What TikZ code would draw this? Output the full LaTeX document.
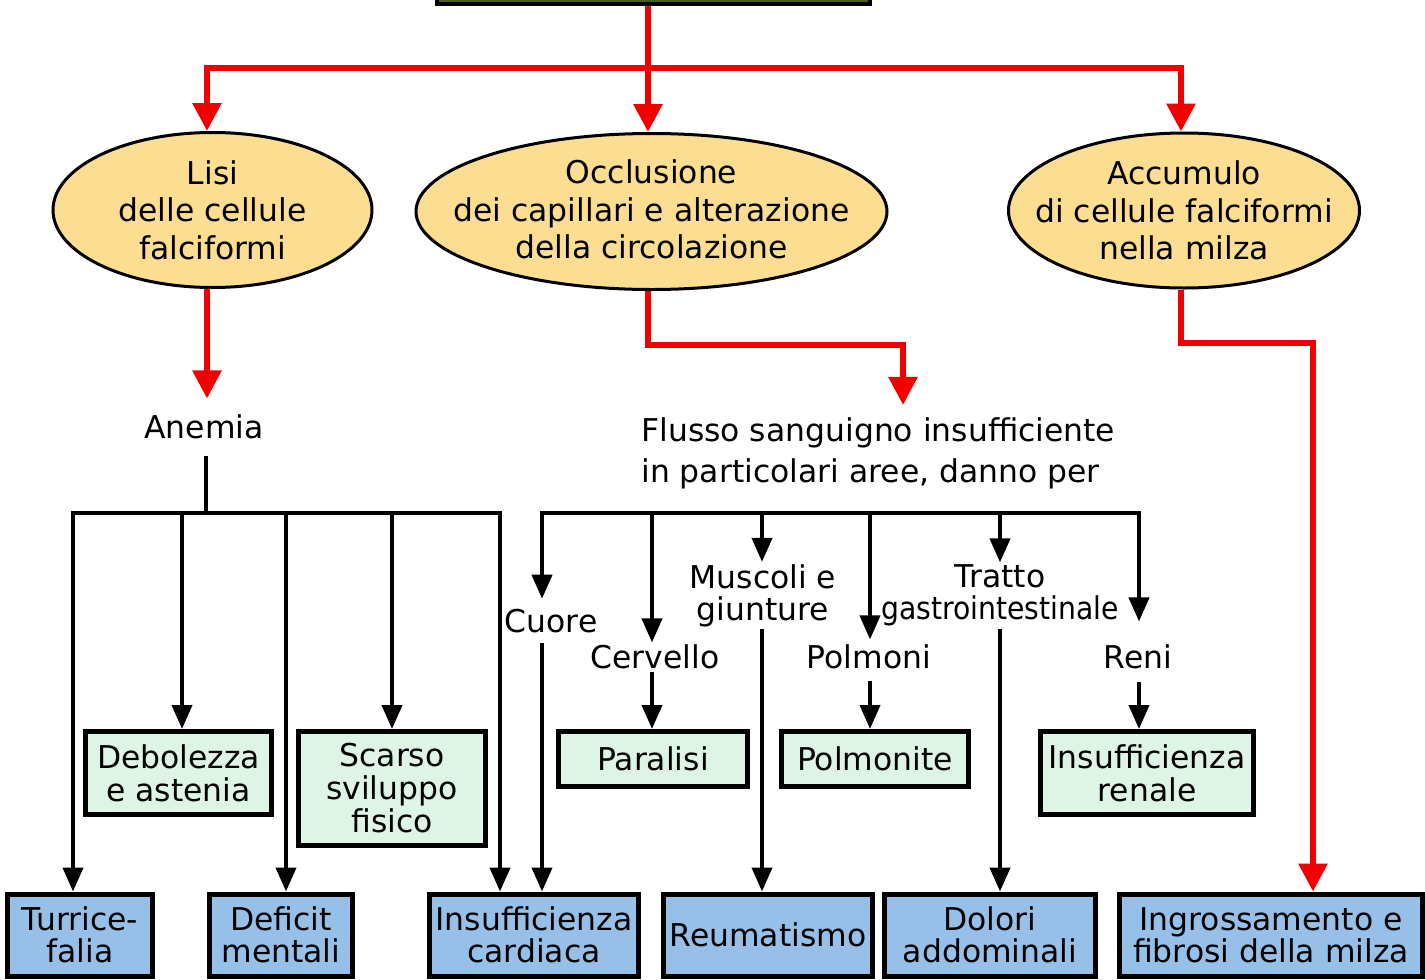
\documentclass[tikz,border=0pt]{standalone}
\usepackage{fontspec}
\setmainfont{DejaVu Sans}
\usetikzlibrary{arrows.meta,shapes.geometric,calc}
\definecolor{redc}{RGB}{240,0,0}
\definecolor{ellfill}{RGB}{251,222,146}
\definecolor{greenfill}{RGB}{222,244,228}
\definecolor{bluefill}{RGB}{151,192,232}
\definecolor{topfill}{RGB}{74,94,30}
\tikzset{
  redline/.style={draw=redc, line width=3pt},
  redarrow/.style={redline, -{Triangle[length=14pt,width=14pt]}},
  blkline/.style={draw=black, line width=2pt},
  blkarrow/.style={blkline, -{Triangle[length=12pt,width=10pt]}},
  topbox/.style={rectangle, draw=black, line width=2pt, fill=topfill, inner sep=0pt},
  ell/.style={ellipse, draw=black, line width=1.5pt, fill=ellfill, inner sep=0pt},
  gbox/.style={rectangle, draw=black, line width=2.5pt, fill=greenfill, inner sep=0pt,
    align=center, font=\fontsize{15.7}{16.5}\selectfont},
  bbox/.style={rectangle, draw=black, line width=2.5pt, fill=bluefill, inner sep=0pt,
    align=center, font=\fontsize{15.7}{16}\selectfont},
  lbl/.style={inner xsep=0pt, inner ysep=5pt, align=center, font=\fontsize{15.7}{16}\selectfont},
  etext/.style={inner sep=0pt, align=center, font=\fontsize{15.7}{18.75}\selectfont},
}
\begin{document}
\begin{tikzpicture}[x=0.5pt,y=-0.5pt]
\useasboundingbox (0,0) rectangle (1425,980);
\clip (0,0) rectangle (1425,980);

% top box (cut off)
\node[topbox, minimum width=216.5pt, minimum height=40pt] (top) at (653.5,-36) {};

% ellipses
\node[ell, minimum width=159.5pt, minimum height=77.5pt] (e1) at (212.5,210) {};
\node[etext] (t1) at (e1) {Lisi\\delle cellule\\falciformi};
\node[ell, minimum width=235.5pt, minimum height=78pt] (e2) at (651.5,211.5) {};
\node[etext] (t2) at (651.5,209.5) {Occlusione\\dei capillari e alterazione\\della circolazione};
\node[ell, minimum width=175.5pt, minimum height=77.5pt] (e3) at (1184,210.5) {};
\node[etext] (t3) at (e3) {Accumulo\\di cellule falciformi\\nella milza};

% intermediate labels
\node[lbl, inner ysep=8pt] (anemia) at (204,427) {Anemia};
\node[lbl, inner ysep=6pt, align=left, font=\fontsize{15.7}{20.5}\selectfont, anchor=west]
  (flusso) at (641,453) {Flusso sanguigno insufficiente\\in particolari aree, danno per};
\node[lbl] (cuore) at (551,621) {Cuore};
\node[lbl, inner ysep=1pt] (cerv) at (655,657) {Cervello};
\node[lbl, inner ysep=1pt] (musc) at (763,595.5) {Muscoli e\\giunture};
\node[lbl, inner ysep=2.5pt] (polm) at (869,657) {Polmoni};
\node[lbl, inner ysep=1pt] (tratto) at (1000,595.5) {Tratto\\\scalebox{0.9}[1]{gastrointestinale}};
\node[lbl, inner ysep=6pt] (reni) at (1138,657) {Reni};

% green boxes
\node[gbox, minimum width=93pt, minimum height=41.5pt] (deb) at (178.5,773) {Debolezza\\e astenia};
\node[gbox, minimum width=93.5pt, minimum height=57pt] (scarso) at (392,788.5) {Scarso\\sviluppo\\fisico};
\node[gbox, minimum width=94.5pt, minimum height=27.5pt] (par) at (653,759) {Paralisi};
\node[gbox, minimum width=93.5pt, minimum height=27.5pt] (polmn) at (875,759) {Polmonite};
\node[gbox, minimum width=106.5pt, minimum height=41.5pt] (ren) at (1147,773) {Insufficienza\\renale};

% blue boxes
\node[bbox, minimum width=72.5pt, minimum height=41pt] (turr) at (80,935) {Turrice-\\falia};
\node[bbox, minimum width=71.5pt, minimum height=41pt] (def) at (281,935) {Deficit\\mentali};
\node[bbox, minimum width=104.5pt, minimum height=41pt] (card) at (534,935) {Insufficienza\\cardiaca};
\node[bbox, minimum width=104.5pt, minimum height=41pt] (reum) at (768,935) {Reumatismo};
\node[bbox, minimum width=105.5pt, minimum height=41pt] (dol) at (990,935) {Dolori\\addominali};
\node[bbox, minimum width=151.5pt, minimum height=41pt] (ingr) at (1271,935) {Ingrossamento e\\fibrosi della milza};

% red connectors
\coordinate (rj1) at (207,68);
\coordinate (rj2) at (648,68);
\coordinate (rj3) at (1181,68);
\draw[redarrow] (top.south -| rj2) -- (rj2 |- e2.north);
\draw[redarrow] (rj2) -| (rj1 |- e1.north);
\draw[redarrow] (rj2) -| (rj3 |- e3.north);
\draw[redarrow] (rj1 |- e1.south) -- (rj1 |- anemia.north);
\coordinate (fk) at (903,345);
\draw[redarrow] (rj2 |- e2.south) |- (fk) -- (fk |- flusso.north);
\coordinate (sk) at (1313,343);
\draw[redarrow] (rj3 |- e3.south) |- (sk) -- (sk |- ingr.north);

% anemia bus
\coordinate (ba1) at (73,513);
\coordinate (ba2) at (182,513);
\coordinate (ba3) at (286,513);
\coordinate (ba4) at (392,513);
\coordinate (ba5) at (500,513);
\draw[blkarrow] (anemia.south -| 206,0) |- (ba1) -- (ba1 |- turr.north);
\draw[blkarrow] (206,513) -| (ba5 |- card.north);
\draw[blkarrow] (ba2) -- (ba2 |- deb.north);
\draw[blkarrow] (ba3) -- (ba3 |- def.north);
\draw[blkarrow] (ba4) -- (ba4 |- scarso.north);

% flusso bus
\coordinate (bf1) at (542,513);
\coordinate (bf2) at (652,513);
\coordinate (bf3) at (762,513);
\coordinate (bf4) at (870,513);
\coordinate (bf5) at (1000,513);
\coordinate (bf6) at (1139,513);
\draw[blkarrow] (bf3) -| (bf1 |- cuore.north);
\draw[blkarrow] (bf3) -| ([yshift=5.5pt]bf6 |- reni.north);
\draw[blkarrow] (bf2) -- (bf2 |- cerv.north);
\draw[blkarrow] (bf3) -- (bf3 |- musc.north);
\draw[blkarrow] (bf4) -- (bf4 |- polm.north);
\draw[blkarrow] (bf5) -- (bf5 |- tratto.north);

% second-level arrows
\draw[blkarrow] (bf1 |- cuore.south) -- (bf1 |- card.north);
\draw[blkarrow] (bf2 |- cerv.south) -- (bf2 |- par.north);
\draw[blkarrow] (bf3 |- musc.south) -- (bf3 |- reum.north);
\draw[blkarrow, shorten <=3pt] (bf4 |- polm.south) -- (bf4 |- polmn.north);
\draw[blkarrow] (bf5 |- tratto.south) -- (bf5 |- dol.north);
\draw[blkarrow] (bf6 |- reni.south) -- (bf6 |- ren.north);
\end{tikzpicture}
\end{document}
